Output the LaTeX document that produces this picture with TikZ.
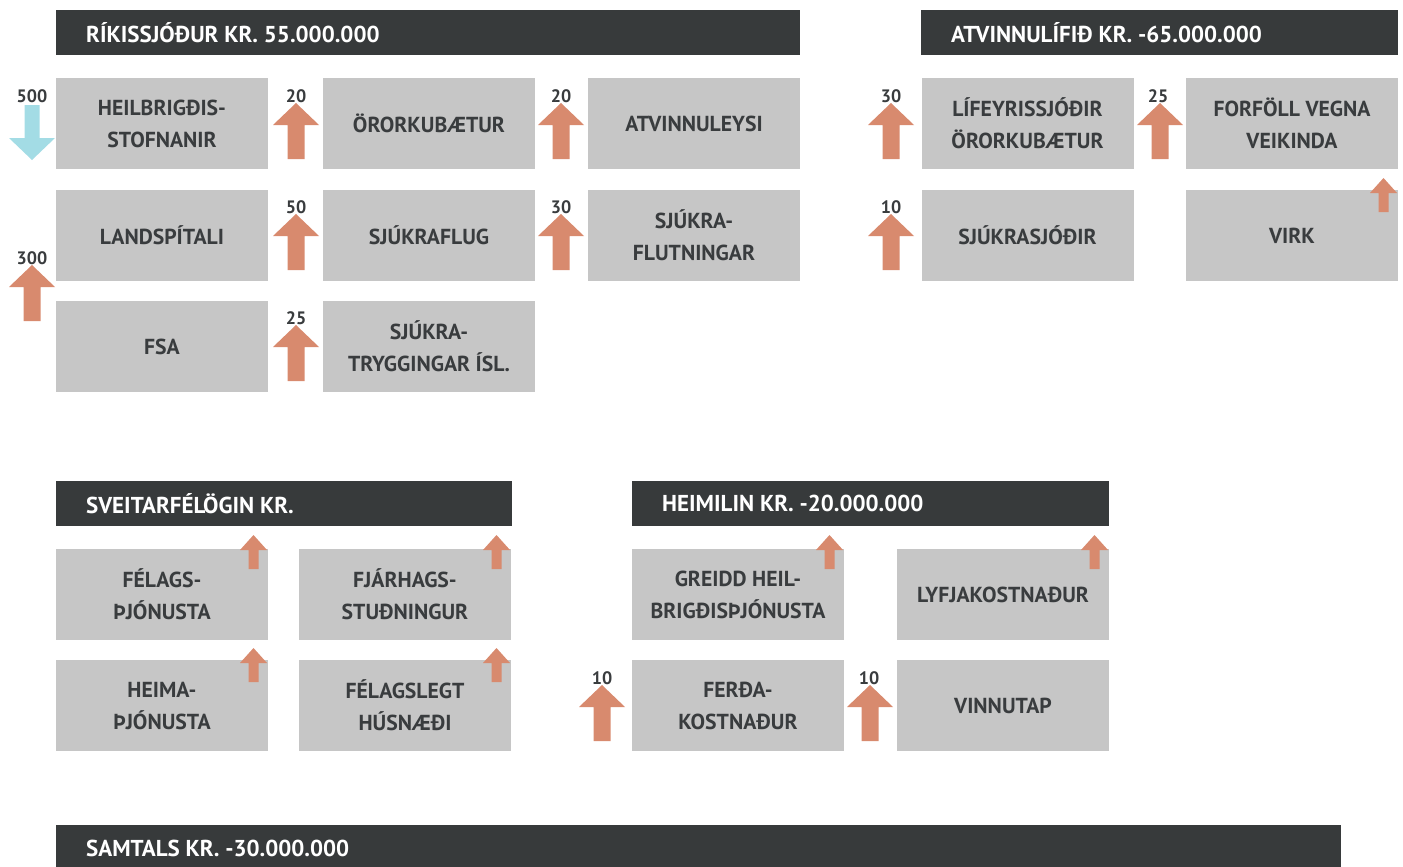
\documentclass[tikz,border=0pt]{standalone}
\usepackage{fontspec}
\setmainfont{PT Sans}
\definecolor{boxgray}{HTML}{C6C6C6}
\definecolor{hdr}{HTML}{373A3B}
\definecolor{txt}{HTML}{393C3E}
\definecolor{orng}{HTML}{D88A6E}
\definecolor{lblue}{HTML}{A3DCE5}
\tikzset{
  box/.style={fill=boxgray, minimum width=212pt, minimum height=91pt, inner sep=0pt,
    text=txt, font=\bfseries\fontsize{21.7}{32}\selectfont, align=center},
  hdrtext/.style={anchor=west, text=white, inner sep=0pt, font=\bfseries\fontsize{23}{26}\selectfont},
  numlbl/.style={anchor=base, text=txt, inner sep=0pt, font=\bfseries\fontsize{18}{20}\selectfont},
  bigup/.pic={\fill[orng] (0,0) -- (23,22) -- (8.5,22) -- (8.5,56) -- (-8.5,56) -- (-8.5,22) -- (-23,22) -- cycle;},
  bigdown/.pic={\fill[lblue] (0,0) -- (23,-22) -- (7.5,-22) -- (7.5,-55) -- (-7.5,-55) -- (-7.5,-22) -- (-23,-22) -- cycle;},
  smallup/.pic={\fill[orng] (0,0) -- (13.5,15) -- (5,15) -- (5,34) -- (-5,34) -- (-5,15) -- (-13.5,15) -- cycle;}
}
\begin{document}
\begin{tikzpicture}[x=1pt,y=-1pt]
\useasboundingbox (0,0) rectangle (1403,867);
% headers
\fill[hdr] (56,10) rectangle (800,55);
\node[hdrtext] (h1) at (86,32.5) {RÍKISSJÓÐUR KR. 55.000.000};
\fill[hdr] (921,10) rectangle (1398,55);
\node[hdrtext] (h2) at (951,32.5) {ATVINNULÍFIÐ KR. -65.000.000};
\fill[hdr] (56,481) rectangle (512,526);
\node[hdrtext] (h3) at (86,503.5) {SVEITARFÉLÖGIN KR.};
\fill[hdr] (632,481) rectangle (1109,526);
\node[hdrtext] (h4) at (662,503.5) {HEIMILIN KR. -20.000.000};
\fill[hdr] (56,825) rectangle (1341,880);
\node[hdrtext] (h5) at (86,848) {SAMTALS KR. -30.000.000};
% top-left boxes
\node[box] (b11) at (162,123.5) {HEILBRIGÐIS-\\STOFNANIR};
\node[box] (b12) at (429,123.5) {ÖRORKUBÆTUR};
\node[box] (b13) at (694,123.5) {ATVINNULEYSI};
\node[box] (b21) at (162,235.5) {LANDSPÍTALI};
\node[box] (b22) at (429,235.5) {SJÚKRAFLUG};
\node[box] (b23) at (694,235.5) {SJÚKRA-\\FLUTNINGAR};
\node[box] (b31) at (162,346.5) {FSA};
\node[box] (b32) at (429,346.5) {SJÚKRA-\\TRYGGINGAR ÍSL.};
% top-right boxes
\node[box] (r11) at (1027.5,123.5) {LÍFEYRISSJÓÐIR\\ÖRORKUBÆTUR};
\node[box] (r12) at (1292,123.5) {FORFÖLL VEGNA\\VEIKINDA};
\node[box] (r21) at (1027.5,235.5) {SJÚKRASJÓÐIR};
\node[box] (r22) at (1292,235.5) {VIRK};
% lower-left boxes
\node[box] (s11) at (162,594.5) {FÉLAGS-\\ÞJÓNUSTA};
\node[box] (s12) at (405,594.5) {FJÁRHAGS-\\STUÐNINGUR};
\node[box] (s21) at (162,705.5) {HEIMA-\\ÞJÓNUSTA};
\node[box] (s22) at (405,705.5) {FÉLAGSLEGT\\HÚSNÆÐI};
% lower-right boxes
\node[box] (m11) at (738,594.5) {GREIDD HEIL-\\BRIGÐISÞJÓNUSTA};
\node[box] (m12) at (1003,594.5) {LYFJAKOSTNAÐUR};
\node[box] (m21) at (738,705.5) {FERÐA-\\KOSTNAÐUR};
\node[box] (m22) at (1003,705.5) {VINNUTAP};
% big arrows
\pic at (32,160) {bigdown};
\pic at (296,103) {bigup};
\pic at (561,103) {bigup};
\pic at (296,214) {bigup};
\pic at (561,214) {bigup};
\pic at (32,265) {bigup};
\pic at (296,325) {bigup};
\pic at (891,103) {bigup};
\pic at (1160,103) {bigup};
\pic at (891,214) {bigup};
\pic at (602,685) {bigup};
\pic at (870,685) {bigup};
% small arrows
\pic at (1383.5,178) {smallup};
\pic at (253.5,535) {smallup};
\pic at (496.5,535) {smallup};
\pic at (253.5,648) {smallup};
\pic at (496.5,648) {smallup};
\pic at (829.5,535) {smallup};
\pic at (1094.5,535) {smallup};
% labels
\node[numlbl] (n1) at (32,102.5) {500};
\node[numlbl] (n2) at (296,102.5) {20};
\node[numlbl] (n3) at (561,102.5) {20};
\node[numlbl] (n4) at (296,213.5) {50};
\node[numlbl] (n5) at (561,213.5) {30};
\node[numlbl] (n6) at (32,264) {300};
\node[numlbl] (n7) at (296,324.5) {25};
\node[numlbl] (n8) at (891,102.5) {30};
\node[numlbl] (n9) at (1158,102.5) {25};
\node[numlbl] (n10) at (891,213.5) {10};
\node[numlbl] (n11) at (602,684) {10};
\node[numlbl] (n12) at (869,684) {10};
\end{tikzpicture}
\end{document}
